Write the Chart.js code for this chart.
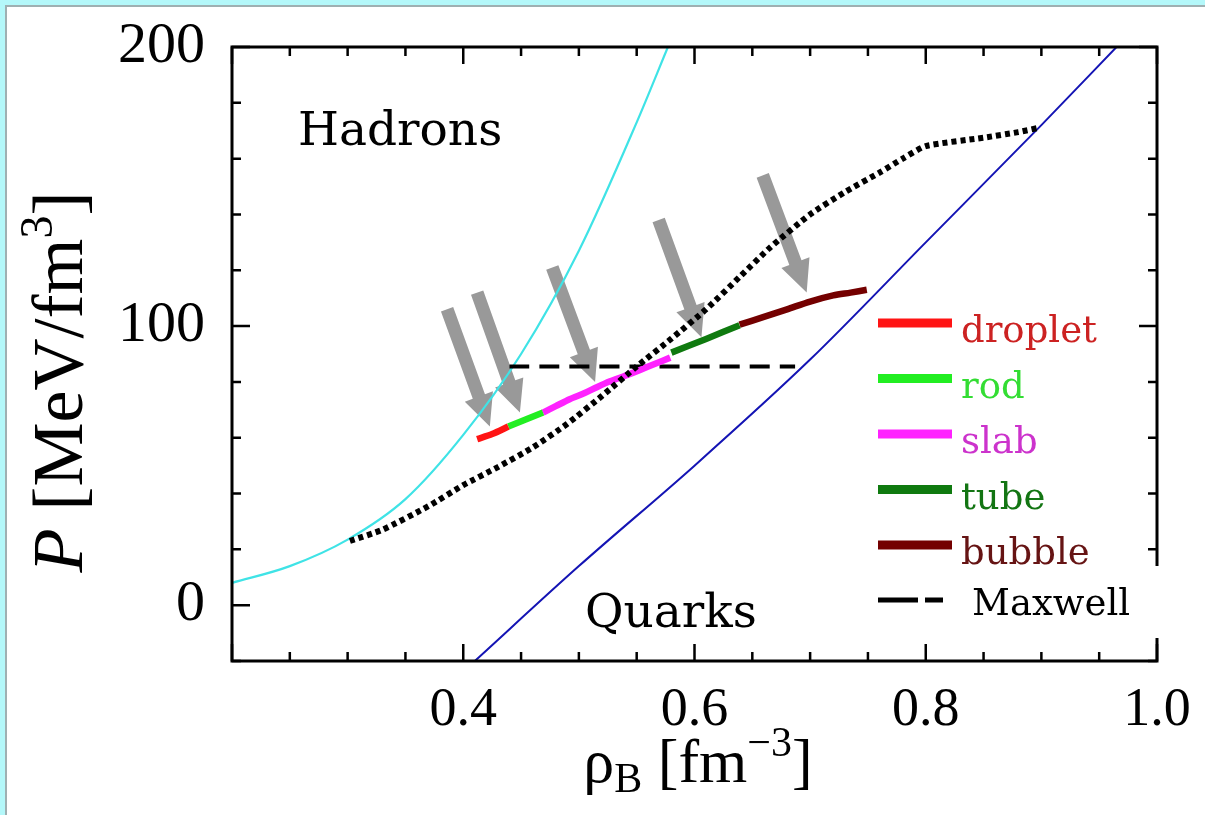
<!DOCTYPE html>
<html>
<head>
<meta charset="utf-8">
<script src="https://cdn.jsdelivr.net/npm/chart.js@4.4.1/dist/chart.umd.min.js"></script>
<style>
  body { margin: 0; background: #fff; }
  #wrap { position: relative; width: 1205px; height: 815px; overflow: hidden; }
  #frame { position: absolute; left: 0; top: 0; width: 1205px; height: 815px; box-sizing: border-box;
           border-top: 5px solid #b4f8fa; border-left: 5px solid #b4f8fa; pointer-events: none; }
  #frame div { position: absolute; left: 0; top: 0; right: 0; bottom: 0;
               border-top: 2px solid #9fb0b2; border-left: 2px solid #9fb0b2; }
</style>
</head>
<body>
<div id="wrap">
  <canvas id="eosChart" width="1205" height="815"></canvas>
  <div id="frame"><div></div></div>
</div>
<script>
// hadronic matter EOS (cyan)
var hadronRho = [0.20, 0.25, 0.30, 0.35, 0.40, 0.45, 0.50, 0.55, 0.577];
var hadronP   = [8, 14, 23.5, 38, 61, 90, 127, 173, 200];

// quark matter EOS (blue)
var quarkRho = [0.41, 0.50, 0.60, 0.70, 0.80, 0.90, 0.965];
var quarkP   = [-20, 14, 50, 88, 130, 172, 200];

// mixed phase without Coulomb (dotted)
var mixedRho = [0.302, 0.33, 0.37, 0.40, 0.43, 0.46, 0.49, 0.52, 0.55, 0.58, 0.61, 0.64, 0.665, 0.70, 0.73, 0.76, 0.78, 0.80, 0.85, 0.88, 0.897];
var mixedP   = [23, 27, 35.5, 43, 49.5, 56.5, 65, 75, 85.5, 95.5, 106, 118, 128, 140, 148, 155, 160, 164.5, 167.5, 169.5, 171];

// pasta structures
var dropletRho = [0.412, 0.425, 0.439];
var dropletP   = [59.5, 61.3, 64];
var rodRho = [0.439, 0.469];
var rodP   = [64, 69];
var slabRho = [0.469, 0.48, 0.492, 0.505, 0.516, 0.527, 0.54, 0.553, 0.566, 0.579];
var slabP   = [69, 71.3, 73.8, 76, 78.2, 80.2, 82.2, 84.3, 86.5, 88.7];
var tubeRho = [0.58, 0.61, 0.639];
var tubeP   = [90.5, 95.4, 100.3];
var bubbleRho = [0.639, 0.66, 0.68, 0.70, 0.72, 0.735, 0.749];
var bubbleP   = [100.5, 103.3, 106, 108.8, 111, 112, 113];

// Maxwell construction
var maxwellRho = [0.44, 0.687];
var maxwellP   = [85.5, 85.5];

// gray arrows (tail -> tip)
var arrowTailRho = [0.386, 0.412, 0.477, 0.569, 0.659];
var arrowTailP   = [106, 112, 121, 138, 154];
var arrowTipRho  = [0.423, 0.449, 0.514, 0.606, 0.697];
var arrowTipP    = [64, 69, 80, 96, 112];

var xTickLabels = [0.4, 0.6, 0.8, 1.0];
var yTickLabels = [0, 100, 200];

var phaseNames = ['droplet', 'rod', 'slab', 'tube', 'bubble'];
var phaseLineColors = ['#ff1414', '#22ee22', '#ff22ff', '#0f7a0f', '#740000'];
var phaseTextColors = ['#cc2222', '#33dd33', '#cc33cc', '#137513', '#661414'];

function pts(xs, ys) {
    return xs.map(function (x, i) { return { x: x, y: ys[i] }; });
}

function line(label, xs, ys, color, width, extra) {
    var ds = {
        label: label,
        data: pts(xs, ys),
        showLine: true,
        borderColor: color,
        backgroundColor: color,
        borderWidth: width,
        pointRadius: 0,
        fill: false,
        tension: 0.3
    };
    return Object.assign(ds, extra || {});
}

var serif = "'Liberation Serif', 'Times New Roman', serif";
var wide = "'DejaVu Serif', serif";

var decor = {
    id: 'decor',
    beforeDatasetsDraw: function (chart) {
        var ctx = chart.ctx, xs = chart.scales.x, ys = chart.scales.y;
        ctx.save();
        ctx.fillStyle = '#999999';
        for (var i = 0; i < arrowTailRho.length; i++) {
            var tx = xs.getPixelForValue(arrowTailRho[i]), ty = ys.getPixelForValue(arrowTailP[i]);
            var hx = xs.getPixelForValue(arrowTipRho[i]), hy = ys.getPixelForValue(arrowTipP[i]);
            var len = Math.hypot(hx - tx, hy - ty);
            var dx = (hx - tx) / len, dy = (hy - ty) / len;
            var nx = -dy, ny = dx;
            var hl = 32, hw = 15, sw = 6.5;
            var bx = hx - dx * hl, by = hy - dy * hl;
            ctx.beginPath();
            ctx.moveTo(tx + nx * sw, ty + ny * sw);
            ctx.lineTo(bx + nx * sw, by + ny * sw);
            ctx.lineTo(bx + nx * hw, by + ny * hw);
            ctx.lineTo(hx, hy);
            ctx.lineTo(bx - nx * hw, by - ny * hw);
            ctx.lineTo(bx - nx * sw, by - ny * sw);
            ctx.lineTo(tx - nx * sw, ty - ny * sw);
            ctx.closePath();
            ctx.fill();
        }
        ctx.restore();
    },
    afterDatasetsDraw: function (chart) {
        var ctx = chart.ctx, a = chart.chartArea, xs = chart.scales.x, ys = chart.scales.y;
        ctx.save();

        // frame
        ctx.strokeStyle = '#000';
        ctx.lineWidth = 3;
        ctx.strokeRect(a.left, a.top, a.right - a.left, a.bottom - a.top);

        // inward ticks
        ctx.lineWidth = 2.5;
        ctx.beginPath();
        for (var i = 0; i <= 16; i++) {
            var v = 0.2 + i * 0.05;
            var px = xs.getPixelForValue(v);
            var l = (i % 4 === 0) ? 17 : 9;
            ctx.moveTo(px, a.bottom); ctx.lineTo(px, a.bottom - l);
            ctx.moveTo(px, a.top); ctx.lineTo(px, a.top + l);
        }
        for (var k = 0; k <= 11; k++) {
            var w = -20 + k * 20;
            var py = ys.getPixelForValue(w);
            var m = (w % 100 === 0) ? 18 : 9;
            ctx.moveTo(a.left, py); ctx.lineTo(a.left + m, py);
            ctx.moveTo(a.right, py); ctx.lineTo(a.right - m, py);
        }
        ctx.stroke();

        // white box behind Maxwell entry
        ctx.fillStyle = '#ffffff';
        ctx.fillRect(866, 566, 301, 72);

        // legend
        ctx.textAlign = 'left';
        ctx.textBaseline = 'alphabetic';
        ctx.font = '37px ' + wide;
        for (var j = 0; j < phaseNames.length; j++) {
            var ly = 323 + j * 55.5;
            ctx.strokeStyle = phaseLineColors[j];
            ctx.lineWidth = 9;
            ctx.beginPath();
            ctx.moveTo(878, ly); ctx.lineTo(952, ly);
            ctx.stroke();
            ctx.fillStyle = phaseTextColors[j];
            ctx.fillText(phaseNames[j], 961, ly + 19);
        }
        ctx.strokeStyle = '#000';
        ctx.lineWidth = 5;
        ctx.beginPath();
        ctx.moveTo(878, 600); ctx.lineTo(918, 600);
        ctx.moveTo(925, 600); ctx.lineTo(943, 600);
        ctx.stroke();
        ctx.fillStyle = '#000';
        ctx.fillText('Maxwell', 972, 615);

        // region labels
        ctx.font = '47px ' + wide;
        ctx.fillText('Hadrons', 298, 145);
        ctx.fillText('Quarks', 585, 627);

        // x title: rho_B [fm^-3]
        var big = 62, small = 42;
        var parts = [
            { t: '\u03c1', f: big + 'px ' + serif, dy: 0 },
            { t: 'B', f: small + 'px ' + serif, dy: 10 },
            { t: ' [fm', f: big + 'px ' + serif, dy: 0 },
            { t: '\u22123', f: small + 'px ' + serif, dy: -26 },
            { t: ']', f: big + 'px ' + serif, dy: 0 }
        ];
        var total = 0;
        parts.forEach(function (p) { ctx.font = p.f; p.w = ctx.measureText(p.t).width; total += p.w; });
        var cx = 698 - total / 2;
        parts.forEach(function (p) { ctx.font = p.f; ctx.fillText(p.t, cx, 782 + p.dy); cx += p.w; });

        // y title: P [MeV/fm^3]
        ctx.translate(58, 382);
        ctx.rotate(-Math.PI / 2);
        var yb = 72, ys2 = 46;
        var yparts = [
            { t: 'P', f: 'italic ' + yb + 'px ' + serif, dy: 0 },
            { t: ' [MeV/fm', f: yb + 'px ' + serif, dy: 0 },
            { t: '3', f: ys2 + 'px ' + serif, dy: -30 },
            { t: ']', f: yb + 'px ' + serif, dy: 0 }
        ];
        var ytot = 0;
        yparts.forEach(function (p) { ctx.font = p.f; p.w = ctx.measureText(p.t).width; ytot += p.w; });
        var yx = -ytot / 2;
        yparts.forEach(function (p) { ctx.font = p.f; ctx.fillText(p.t, yx, 24 + p.dy); yx += p.w; });

        ctx.restore();
    }
};

var eosChart = document.getElementById('eosChart').getContext('2d');

new Chart(eosChart, {
    type: 'scatter',
    data: {
        datasets: [
            line('mixed', mixedRho, mixedP, '#000000', 6, { borderDash: [5, 4], tension: 0.2 }),
            line('droplet', dropletRho, dropletP, phaseLineColors[0], 6.5),
            line('rod', rodRho, rodP, phaseLineColors[1], 6.5),
            line('slab', slabRho, slabP, phaseLineColors[2], 6.5),
            line('tube', tubeRho, tubeP, phaseLineColors[3], 6.5),
            line('bubble', bubbleRho, bubbleP, phaseLineColors[4], 6.5),
            line('Maxwell', maxwellRho, maxwellP, '#000000', 4, { borderDash: [20, 10] }),
            line('Quarks', quarkRho, quarkP, '#1414b4', 2, { cubicInterpolationMode: 'monotone' }),
            line('Hadrons', hadronRho, hadronP, '#3fe3e6', 2.2, { cubicInterpolationMode: 'monotone' })
        ]
    },
    options: {
        responsive: false,
        animation: false,
        devicePixelRatio: 1,
        layout: { padding: { left: 0, top: 47, right: 48, bottom: 0 } },
        plugins: {
            legend: { display: false },
            tooltip: { enabled: false }
        },
        scales: {
            x: {
                type: 'linear',
                min: 0.2,
                max: 1.0,
                afterBuildTicks: function (s) { s.ticks = xTickLabels.map(function (v) { return { value: v }; }); },
                afterFit: function (s) { s.height = 815 - 661; s.paddingLeft = 0; s.paddingRight = 0; },
                grid: { display: false, drawTicks: false },
                border: { display: false },
                ticks: {
                    color: '#000',
                    font: { family: serif, size: 54 },
                    padding: 17,
                    maxRotation: 0,
                    autoSkip: false,
                    callback: function (v) { return Number(v).toFixed(1); }
                }
            },
            y: {
                type: 'linear',
                min: -20,
                max: 200,
                afterBuildTicks: function (s) { s.ticks = yTickLabels.map(function (v) { return { value: v }; }); },
                afterFit: function (s) { s.width = 232; s.paddingTop = 0; s.paddingBottom = 0; },
                grid: { display: false, drawTicks: false },
                border: { display: false },
                ticks: {
                    color: '#000',
                    font: { family: serif, size: 58 },
                    padding: 27,
                    autoSkip: false
                }
            }
        }
    },
    plugins: [decor]
});
</script>
</body>
</html>
